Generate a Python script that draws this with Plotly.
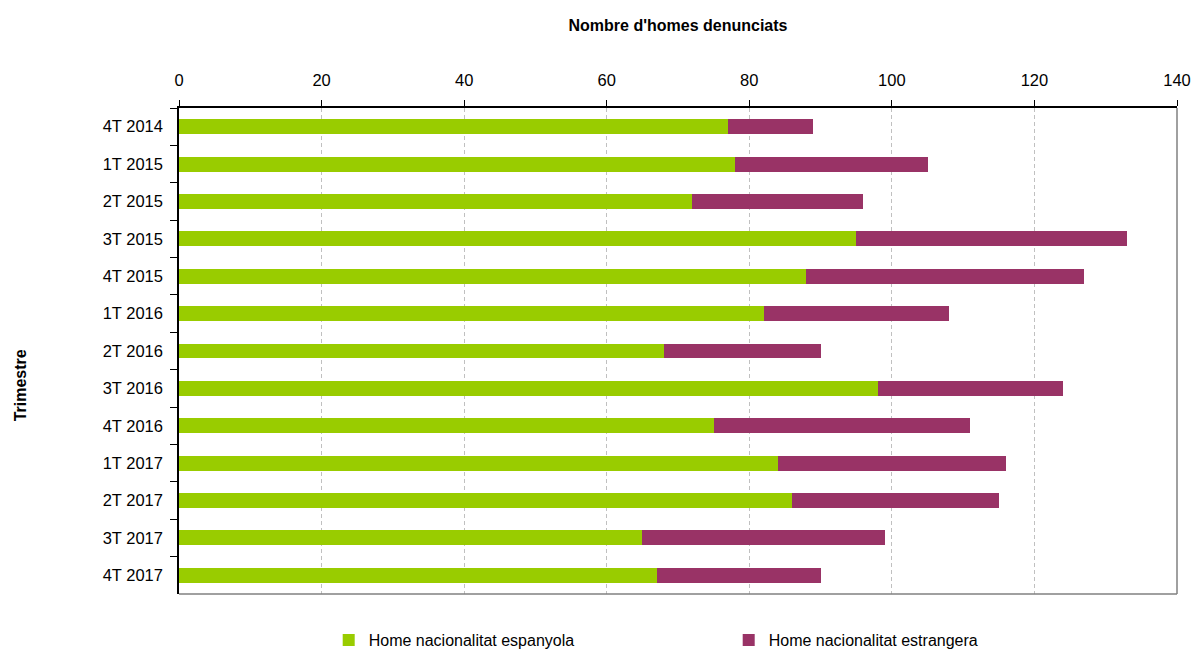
import plotly.graph_objects as go

trimestres = ["4T 2014", "1T 2015", "2T 2015", "3T 2015", "4T 2015", "1T 2016", "2T 2016",
              "3T 2016", "4T 2016", "1T 2017", "2T 2017", "3T 2017", "4T 2017"]
espanyola = [77, 78, 72, 95, 88, 82, 68, 98, 75, 84, 86, 65, 67]
estrangera = [12, 27, 24, 38, 39, 26, 22, 26, 36, 32, 29, 34, 23]
x_ticks = [0, 20, 40, 60, 80, 100, 120, 140]

FONT = "Liberation Sans, Arial, sans-serif"

fig = go.Figure()
fig.add_trace(go.Bar(y=trimestres, x=espanyola, orientation="h",
                     name="Home nacionalitat espanyola",
                     marker=dict(color="#99CC00", line=dict(width=0))))
fig.add_trace(go.Bar(y=trimestres, x=estrangera, orientation="h",
                     name="Home nacionalitat estrangera",
                     marker=dict(color="#993366", line=dict(width=0))))

fig.update_layout(
    barmode="stack",
    bargap=0.6,
    width=1195, height=650,
    margin=dict(l=179, r=18, t=108, b=56, autoexpand=False),
    paper_bgcolor="white", plot_bgcolor="white",
    font=dict(family=FONT, size=16, color="#000000"),
    showlegend=True,
    legend=dict(orientation="h", x=0.15, xanchor="left", y=-0.095, yanchor="middle",
                font=dict(family=FONT, size=16), entrywidth=355, itemwidth=30,
                traceorder="normal"),
    xaxis=dict(side="top", range=[0, 140], tickvals=x_ticks, ticks="outside", ticklen=6,
               tickcolor="#000000", showline=True, linecolor="#000000", linewidth=1.5,
               showgrid=True, gridcolor="#c0c0c0", griddash="4px,3px", gridwidth=1,
               zeroline=False, ticklabelstandoff=8, automargin=False,
               tickfont=dict(family=FONT, size=16.5),
               title=dict(text="<b>Nombre d'homes denunciats</b>",
                          font=dict(family=FONT, size=16), standoff=35)),
    yaxis=dict(categoryorder="array", categoryarray=trimestres, autorange="reversed",
               ticks="outside", tickson="boundaries", ticklen=7, tickcolor="#000000",
               showline=True, linecolor="#000000", linewidth=1.5, showgrid=False,
               automargin=False,
               tickfont=dict(family=FONT, size=16.5), ticklabelstandoff=11),
    annotations=[dict(text="<b>Trimestre</b>", xref="paper", yref="paper",
                      x=-0.159, y=0.43, textangle=-90, showarrow=False,
                      font=dict(family=FONT, size=16), xanchor="center", yanchor="middle")],
    shapes=[dict(type="line", xref="paper", yref="paper", x0=1, x1=1, y0=0, y1=1,
                 line=dict(color="#808080", width=1.5)),
            dict(type="line", xref="paper", yref="paper", x0=0, x1=1, y0=0, y1=0,
                 line=dict(color="#808080", width=1.5))],
)

fig.write_html("out.html", config={"displayModeBar": False},
               post_script="document.body.style.margin='0';document.body.style.overflow='hidden';")
